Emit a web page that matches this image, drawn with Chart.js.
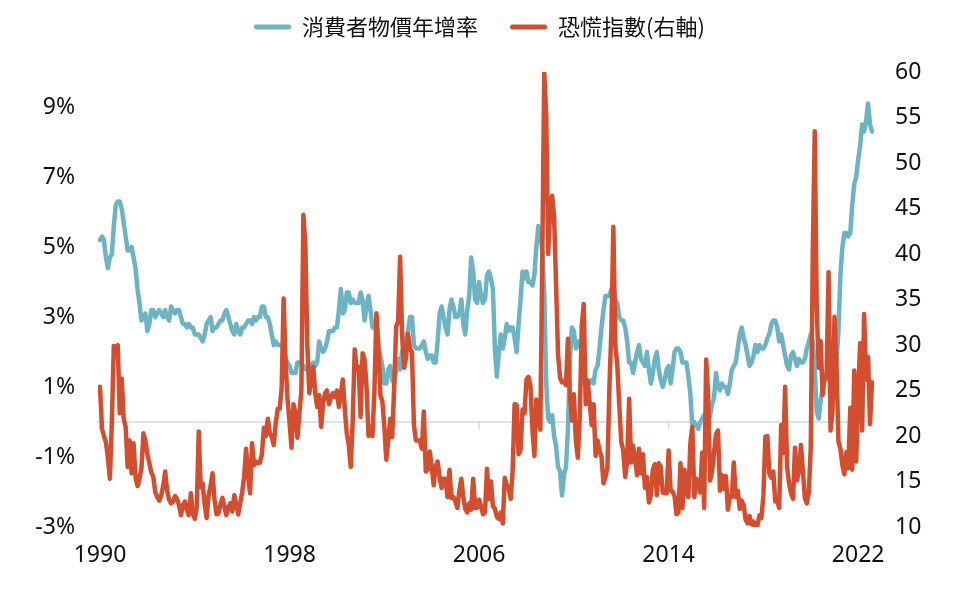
<!DOCTYPE html>
<html lang="zh-Hant">
<head>
    <meta charset="UTF-8">
    <title>消費者物價年增率與恐慌指數</title>
    <script src="https://cdn.jsdelivr.net/npm/chart.js"></script>
    <style>
        body {
            margin: 0;
            background-color: #ffffff;
        }
        canvas {
            display: block;
        }
    </style>
</head>
<body>
    <canvas id="cpiVixChart" width="959" height="591"></canvas>

    <script>
        // 美國 CPI 年增率 (%)，1990/01 ~ 2022/08，每行一年
        const cpi = [
            5.2, 5.3, 5.2, 4.7, 4.4, 4.7, 4.8, 5.6, 6.2, 6.3, 6.3, 6.1,
            5.7, 5.3, 4.9, 4.9, 5.0, 4.7, 4.4, 3.8, 3.4, 2.9, 3.0, 3.1,
            2.6, 2.8, 3.2, 3.2, 3.0, 3.1, 3.2, 3.1, 3.0, 3.2, 3.0, 2.9,
            3.3, 3.2, 3.1, 3.2, 3.2, 3.0, 2.8, 2.8, 2.7, 2.8, 2.7, 2.7,
            2.5, 2.5, 2.5, 2.4, 2.3, 2.5, 2.8, 2.9, 3.0, 2.6, 2.7, 2.7,
            2.8, 2.9, 2.9, 3.1, 3.2, 3.0, 2.8, 2.6, 2.5, 2.8, 2.6, 2.5,
            2.7, 2.7, 2.8, 2.9, 2.9, 2.8, 3.0, 2.9, 3.0, 3.0, 3.3, 3.3,
            3.0, 3.0, 2.8, 2.5, 2.2, 2.3, 2.2, 2.2, 2.2, 2.1, 1.8, 1.7,
            1.6, 1.4, 1.4, 1.4, 1.7, 1.7, 1.7, 1.6, 1.5, 1.5, 1.5, 1.6,
            1.7, 1.6, 1.7, 2.3, 2.1, 2.0, 2.1, 2.3, 2.6, 2.6, 2.6, 2.7,
            2.7, 3.2, 3.8, 3.1, 3.2, 3.7, 3.7, 3.4, 3.5, 3.4, 3.4, 3.4,
            3.7, 3.5, 2.9, 3.3, 3.6, 3.2, 2.7, 2.7, 2.6, 2.1, 1.9, 1.6,
            1.1, 1.1, 1.5, 1.6, 1.2, 1.1, 1.5, 1.8, 1.5, 2.0, 2.2, 2.4,
            2.6, 3.0, 3.0, 2.2, 2.1, 2.1, 2.1, 2.2, 2.3, 2.0, 1.8, 1.9,
            1.9, 1.7, 1.7, 2.3, 3.1, 3.3, 3.0, 2.7, 2.5, 3.2, 3.5, 3.3,
            3.0, 3.0, 3.1, 3.5, 2.8, 2.5, 3.2, 3.6, 4.7, 4.3, 3.5, 3.4,
            4.0, 3.6, 3.4, 3.5, 4.2, 4.3, 4.1, 3.8, 2.1, 1.3, 2.0, 2.5,
            2.1, 2.4, 2.8, 2.6, 2.7, 2.7, 2.4, 2.0, 2.8, 3.5, 4.3, 4.1,
            4.3, 4.0, 4.0, 3.9, 4.2, 5.0, 5.6, 5.4, 4.9, 3.7, 1.1, 0.1,
            0.0, 0.2, -0.4, -0.7, -1.3, -1.4, -2.1, -1.5, -1.3, -0.2, 1.8, 2.7,
            2.6, 2.1, 2.3, 2.2, 2.0, 1.1, 1.2, 1.1, 1.1, 1.2, 1.1, 1.5,
            1.6, 2.1, 2.7, 3.2, 3.6, 3.6, 3.6, 3.8, 3.9, 3.5, 3.4, 3.0,
            2.9, 2.9, 2.7, 2.3, 1.7, 1.7, 1.4, 1.7, 2.0, 2.2, 1.8, 1.7,
            1.6, 2.0, 1.5, 1.1, 1.4, 1.8, 2.0, 1.5, 1.2, 1.0, 1.2, 1.5,
            1.6, 1.1, 1.5, 2.0, 2.1, 2.1, 2.0, 1.7, 1.7, 1.7, 1.3, 0.8,
            -0.1, 0.0, -0.1, -0.2, 0.0, 0.1, 0.2, 0.2, 0.0, 0.2, 0.5, 0.7,
            1.4, 1.0, 0.9, 1.1, 1.0, 1.0, 0.8, 1.1, 1.5, 1.6, 1.7, 2.1,
            2.5, 2.7, 2.4, 2.2, 1.9, 1.6, 1.7, 1.9, 2.2, 2.0, 2.2, 2.1,
            2.1, 2.2, 2.4, 2.5, 2.8, 2.9, 2.9, 2.7, 2.3, 2.5, 2.2, 1.9,
            1.6, 1.5, 1.9, 2.0, 1.8, 1.6, 1.8, 1.7, 1.7, 1.8, 2.1, 2.3,
            2.5, 2.3, 1.5, 0.3, 0.1, 0.6, 1.0, 1.3, 1.4, 1.2, 1.2, 1.4,
            1.4, 1.7, 2.6, 4.2, 5.0, 5.4, 5.4, 5.3, 5.4, 6.2, 6.8, 7.0,
            7.5, 7.9, 8.5, 8.3, 8.6, 9.1, 8.5, 8.3
        ];

        // VIX 恐慌指數 (月底)，1990/01 ~ 2022/08
        const vix = [
            25.4, 20.8, 20.0, 19.3, 17.6, 15.3, 21.5, 29.9, 29.4, 30.0, 22.5, 26.3,
            21.9, 21.0, 16.6, 19.5, 15.9, 19.2, 15.5, 14.5, 15.3, 16.5, 20.3, 19.5,
            18.0, 17.0, 16.0, 15.5, 13.8, 13.3, 12.9, 13.5, 14.5, 16.1, 14.0, 13.0,
            12.6, 12.8, 13.4, 13.1, 12.4, 11.3, 12.4, 12.8, 11.9, 11.3, 13.7, 11.5,
            10.9, 12.2, 20.5, 14.4, 14.8, 12.5, 11.0, 13.5, 14.5, 15.9, 13.0, 11.4,
            11.5, 12.5, 13.2, 12.2, 11.3, 12.2, 12.6, 11.7, 13.5, 12.5, 11.4, 12.6,
            13.8, 15.5, 18.6, 15.5, 13.7, 19.2, 16.8, 17.2, 17.0, 17.1, 18.0, 20.9,
            20.0, 21.9, 20.3, 19.9, 19.0, 21.4, 23.0, 23.0, 25.2, 35.1, 28.0, 24.0,
            21.5, 18.7, 23.5, 22.5, 19.8, 22.5, 25.0, 44.3, 41.0, 30.0, 24.7, 26.2,
            27.6, 24.7, 23.2, 24.5, 21.0, 23.6, 24.7, 25.0, 23.5, 24.3, 24.7, 24.3,
            25.0, 23.2, 24.7, 26.2, 22.9, 20.3, 19.0, 16.6, 21.7, 29.5, 27.3, 27.6,
            22.1, 29.1, 28.4, 25.4, 20.0, 21.0, 20.0, 25.0, 33.5, 30.0, 24.5, 23.8,
            21.1, 17.4, 19.5, 21.9, 19.9, 25.4, 32.0, 32.6, 39.7, 31.1, 27.5, 28.6,
            31.2, 29.6, 29.2, 21.2, 19.5, 19.5, 19.5, 18.6, 22.7, 16.1, 16.3, 18.3,
            16.6, 14.6, 16.7, 17.2, 15.5, 14.3, 15.3, 15.3, 13.3, 16.3, 13.2, 13.3,
            12.8, 12.1, 14.0, 15.3, 13.3, 12.0, 11.6, 12.6, 11.9, 15.3, 12.1, 12.1,
            13.0, 12.3, 11.4, 11.6, 16.4, 13.1, 15.0, 12.3, 12.0, 11.1, 10.9, 11.6,
            10.4, 15.4, 14.6, 14.2, 13.1, 16.2, 23.5, 23.4, 18.0, 18.5, 22.9, 22.5,
            26.2, 26.5, 25.6, 20.8, 17.8, 24.0, 22.9, 20.7, 39.4, 59.9, 55.3, 40.0,
            44.8, 46.4, 44.1, 36.5, 28.9, 26.4, 25.9, 26.0, 25.6, 30.7, 24.5, 21.7,
            24.6, 19.5, 17.6, 22.1, 32.1, 34.5, 23.5, 26.1, 23.7, 21.2, 23.5, 17.8,
            19.5, 18.4, 17.7, 14.8, 15.5, 16.5, 25.3, 31.6, 43.0, 30.0, 27.8, 23.4,
            19.4, 18.4, 15.5, 17.2, 24.1, 17.1, 18.9, 17.5, 15.7, 18.6, 15.9, 18.0,
            14.3, 15.5, 12.7, 13.5, 16.3, 16.9, 13.5, 17.0, 16.6, 13.8, 13.7, 13.7,
            18.4, 14.0, 13.9, 13.4, 11.4, 11.6, 17.0, 12.1, 16.3, 14.0, 13.3, 19.2,
            21.0, 13.3, 15.3, 14.6, 13.8, 18.2, 12.1, 28.4, 24.5, 15.1, 16.1, 18.2,
            20.2, 20.6, 14.0, 15.7, 14.2, 15.6, 11.9, 13.4, 13.3, 17.1, 13.3, 14.0,
            12.0, 12.9, 12.4, 10.8, 10.4, 11.2, 10.3, 10.6, 9.5, 10.2, 11.3, 11.0,
            13.5, 19.9, 20.0, 15.9, 15.4, 16.1, 12.8, 12.9, 12.1, 21.2, 18.1, 25.4,
            16.6, 14.8, 13.7, 13.1, 18.7, 15.1, 16.1, 19.0, 16.2, 13.2, 12.6, 13.8,
            18.8, 40.1, 53.5, 34.2, 27.5, 30.4, 24.5, 26.4, 26.4, 38.0, 20.6, 22.8,
            33.1, 27.9, 19.4, 18.6, 16.8, 15.8, 18.2, 16.5, 23.1, 16.3, 27.2, 17.2,
            24.8, 30.2, 20.6, 33.4, 26.2, 28.7, 21.3, 25.9
        ];

        const tickYears = ['1990', '1998', '2006', '2014', '2022'];
        const leftTicks = [-3, -1, 1, 3, 5, 7, 9];
        const rightTicks = [10, 15, 20, 25, 30, 35, 40, 45, 50, 55, 60];

        // 月份標籤 1990-01 ...
        const months = [];
        for (let i = 0; i < cpi.length; i++) {
            const year = 1990 + Math.floor(i / 12);
            const month = (i % 12) + 1;
            months.push(year + '-' + String(month).padStart(2, '0'));
        }

        const blue = '#6cb4c4';
        const red = '#d24e2e';
        const tickFont = { family: 'Noto Sans', size: 23 };

        // 0% 的灰色橫線與年份刻度
        const zeroLine = {
            id: 'zeroLine',
            beforeDatasetsDraw(chart) {
                const { ctx, chartArea, scales } = chart;
                const y0 = scales.y.getPixelForValue(0);
                ctx.save();
                ctx.strokeStyle = '#d9d9d9';
                ctx.lineWidth = 1.5;
                ctx.beginPath();
                ctx.moveTo(chartArea.left - 3, y0);
                ctx.lineTo(chartArea.right, y0);
                scales.x.ticks.forEach(t => {
                    const x = scales.x.getPixelForValue(t.value);
                    ctx.moveTo(x, y0);
                    ctx.lineTo(x, y0 + 7);
                });
                ctx.stroke();
                ctx.restore();
            }
        };

        // 圖例下方多留空間
        const legendGap = {
            id: 'legendGap',
            beforeInit(chart) {
                const fit = chart.legend.fit;
                chart.legend.fit = function () {
                    fit.call(this);
                    this.height += 24;
                };
            }
        };

        const ctx = document.getElementById('cpiVixChart').getContext('2d');
        new Chart(ctx, {
            type: 'line',
            data: {
                labels: months,
                datasets: [{
                    label: '消費者物價年增率',
                    data: cpi,
                    yAxisID: 'y',
                    borderColor: blue,
                    backgroundColor: blue,
                    borderWidth: 4.5,
                    pointRadius: 0,
                    borderJoinStyle: 'round',
                    borderCapStyle: 'round',
                    order: 1
                }, {
                    label: '恐慌指數(右軸)',
                    data: vix,
                    yAxisID: 'y1',
                    borderColor: red,
                    backgroundColor: red,
                    borderWidth: 4.5,
                    pointRadius: 0,
                    borderJoinStyle: 'round',
                    borderCapStyle: 'round',
                    order: 0
                }]
            },
            options: {
                responsive: false,
                animation: false,
                layout: {
                    padding: { top: -16, left: 0, right: 0, bottom: 0 }
                },
                plugins: {
                    tooltip: { enabled: false },
                    legend: {
                        position: 'top',
                        labels: {
                            boxWidth: 37,
                            boxHeight: 5,
                            padding: 32,
                            color: '#111111',
                            useBorderRadius: true,
                            borderRadius: 2.5,
                            font: { family: 'Noto Sans CJK TC', size: 22 },
                            sort: (a, b) => a.datasetIndex - b.datasetIndex,
                            generateLabels(chart) {
                                const items = Chart.defaults.plugins.legend.labels.generateLabels(chart);
                                items.forEach(item => { item.lineWidth = 0; });
                                return items;
                            }
                        }
                    }
                },
                scales: {
                    x: {
                        type: 'category',
                        grid: { display: false, drawTicks: false },
                        border: { display: false },
                        ticks: {
                            autoSkip: false,
                            maxRotation: 0,
                            minRotation: 0,
                            padding: 15,
                            color: '#111111',
                            font: tickFont,
                            callback: function (value) {
                                return this.getLabelForValue(value).slice(0, 4);
                            }
                        },
                        afterBuildTicks(scale) {
                            scale.ticks = months
                                .map((m, i) => ({ value: i, m }))
                                .filter(t => t.m.endsWith('-01') && tickYears.includes(t.m.slice(0, 4)))
                                .map(t => ({ value: t.value }));
                        },
                        afterFit(scale) {
                            scale.height = 64;
                        }
                    },
                    y: {
                        position: 'left',
                        min: -3,
                        max: 10,
                        grid: { display: false, drawTicks: false },
                        border: { display: false },
                        ticks: {
                            padding: 25,
                            color: '#111111',
                            font: tickFont,
                            callback: v => v + '%'
                        },
                        afterBuildTicks(scale) {
                            scale.ticks = leftTicks.map(v => ({ value: v }));
                        },
                        afterFit(scale) {
                            scale.width = 100;
                        }
                    },
                    y1: {
                        position: 'right',
                        min: 10,
                        max: 60,
                        grid: { display: false, drawTicks: false },
                        border: { display: false },
                        ticks: {
                            padding: 23,
                            color: '#111111',
                            font: tickFont
                        },
                        afterBuildTicks(scale) {
                            scale.ticks = rightTicks.map(v => ({ value: v }));
                        },
                        afterFit(scale) {
                            scale.width = 87;
                        }
                    }
                }
            },
            plugins: [zeroLine, legendGap]
        });
    </script>
</body>
</html>
